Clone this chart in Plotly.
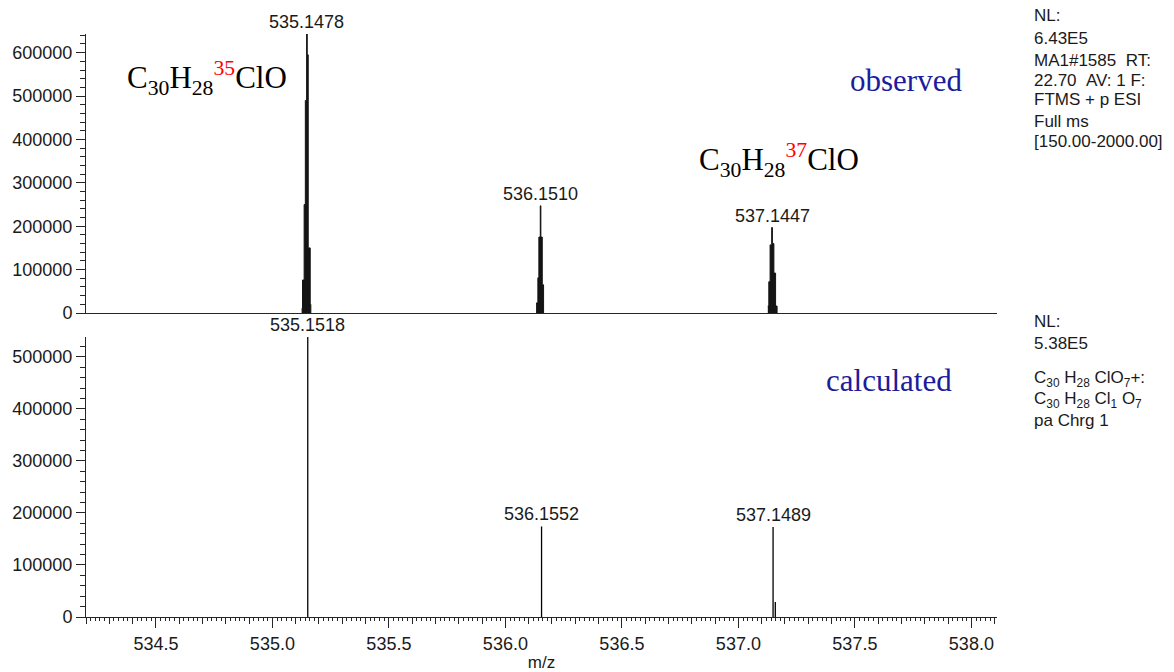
import plotly.graph_objects as go

# ---------------- data ----------------
# observed profile points (m/z, intensity) for the three isotope peaks (step profile)
obs_peak1_mz = [535.1255, 535.1293, 535.1362, 535.1414, 535.1469, 535.1495, 535.1538, 535.1624, 535.1650]
obs_peak1_int = [10000, 76000, 250000, 490000, 643000, 595000, 150000, 20000, 0]
obs_peak2_mz = [536.1317, 536.1394, 536.1437, 536.1497, 536.1523, 536.1583, 536.1639]
obs_peak2_int = [23000, 81000, 175000, 247000, 175000, 65000, 0]
obs_peak3_mz = [537.1263, 537.1306, 537.1361, 537.1430, 537.1460, 537.1524, 537.1597, 537.1661]
obs_peak3_int = [16000, 72000, 157000, 197000, 160000, 92000, 16000, 0]

obs_label_mz = [535.1478, 536.1510, 537.1447]
obs_label_int = [643000, 247000, 197000]

calc_mz = [535.1518, 536.1552, 537.1489, 537.1585]
calc_int = [538000, 174000, 173000, 29000]
calc_label_mz = [535.1518, 536.1552, 537.1489]
calc_label_int = [538000, 174000, 173000]

top_info = ["NL:", "6.43E5", "MA1#1585\u00a0\u00a0RT:", "22.70\u00a0\u00a0AV: 1 F:",
            "FTMS + p ESI", "Full ms", "[150.00-2000.00]"]
bottom_info = ["NL:", "5.38E5", "C<sub>30</sub> H<sub>28</sub> ClO<sub>7</sub>+:",
               "C<sub>30</sub> H<sub>28</sub> Cl<sub>1</sub> O<sub>7</sub>", "pa Chrg 1"]

x_range = [534.2, 538.11]
top_max = 643000
bottom_max = 538000

# ---------------- layout geometry (pixels) ----------------
W, H = 1174, 672
ML, MR, MT, MB = 86, 177, 34, 55
plot_h = H - MT - MB
plot_w = W - ML - MR


def py(p):
    return (H - MB - p) / plot_h


def px(p):
    return (p - ML) / plot_w


AX = "#262626"
FONT = "Liberation Sans, Arial, sans-serif"
SERIF = "Liberation Serif, Times New Roman, serif"

fig = go.Figure()

# observed profile peaks
for mzs, ints in [(obs_peak1_mz, obs_peak1_int), (obs_peak2_mz, obs_peak2_int), (obs_peak3_mz, obs_peak3_int)]:
    fig.add_trace(go.Scatter(x=mzs, y=ints, mode="lines", line=dict(color="#141414", width=1, shape="hv"),
                             fill="tozeroy", fillcolor="#141414", xaxis="x", yaxis="y", showlegend=False,
                             hoverinfo="x+y"))

# calculated sticks
sx, sy = [], []
for m, i in zip(calc_mz, calc_int):
    sx += [m, m, None]
    sy += [0, i, None]
fig.add_trace(go.Scatter(x=sx, y=sy, mode="lines", line=dict(color="#000000", width=1.3),
                         xaxis="x2", yaxis="y2", showlegend=False))
# invisible trace for the minor tick overlay axis
fig.add_trace(go.Scatter(x=x_range, y=[0, 0], mode="lines", line=dict(width=0), xaxis="x3", yaxis="y2",
                         showlegend=False, hoverinfo="skip"))

top_dom = [py(313), 1.0]
bot_dom = [0.0, py(337)]

yaxis_common = dict(
    showline=True, linecolor=AX, linewidth=1, ticks="outside", ticklen=9, tickwidth=1, tickcolor=AX,
    tickformat="d", dtick=100000, tick0=0, showgrid=False, zeroline=False, automargin=False,
    tickfont=dict(family=FONT, size=18, color="#1a1a1a"),
    minor=dict(ticks="outside", ticklen=5, tickcolor=AX, dtick=20000, tick0=0, showgrid=False),
)

fig.update_layout(
    width=W, height=H, margin=dict(l=ML, r=MR, t=MT, b=MB),
    paper_bgcolor="white", plot_bgcolor="white",
    xaxis=dict(domain=[0, 1], range=x_range, anchor="y", showline=True, linecolor=AX, linewidth=1,
               ticks="", showticklabels=False, showgrid=False, zeroline=False, automargin=False),
    yaxis=dict(domain=top_dom, range=[0, top_max], anchor="x", **yaxis_common),
    xaxis2=dict(domain=[0, 1], range=x_range, anchor="y2", showline=True, linecolor=AX, linewidth=1,
                ticks="outside", ticklen=10, tickwidth=1, tickcolor=AX, dtick=0.5, tick0=534.5,
                tickformat=".1f", showgrid=False, zeroline=False, automargin=False,
                tickfont=dict(family=FONT, size=18, color="#1a1a1a"),
                minor=dict(ticks="outside", ticklen=6, tickcolor=AX, dtick=0.1, tick0=534.2, showgrid=False),
                title=dict(text="m/z", font=dict(family=FONT, size=17, color="#1a1a1a"), standoff=8)),
    xaxis3=dict(domain=[0, 1], range=x_range, anchor="y2", overlaying="x2", side="bottom",
                showline=False, ticks="outside", ticklen=3, tickwidth=1, tickcolor=AX, dtick=0.02,
                tick0=534.2, showticklabels=False, showgrid=False, zeroline=False, automargin=False),
    yaxis2=dict(domain=bot_dom, range=[0, bottom_max], anchor="x2", **yaxis_common),
    showlegend=False,
)

annotations = []
# peak labels
for m, i in zip(obs_label_mz, obs_label_int):
    annotations.append(dict(x=m, y=i, xref="x", yref="y", text=f"{m:.4f}", showarrow=False,
                            yanchor="bottom", xanchor="center", yshift=0,
                            font=dict(family=FONT, size=18, color="#1a1a1a")))
for m, i in zip(calc_label_mz, calc_label_int):
    annotations.append(dict(x=m, y=i, xref="x2", yref="y2", text=f"{m:.4f}", showarrow=False,
                            yanchor="bottom", xanchor="center", yshift=0,
                            font=dict(family=FONT, size=18, color="#1a1a1a")))

# info text on the right
top_info_y = [16, 38, 60, 80, 100, 121, 141]
for t, yy in zip(top_info, top_info_y):
    annotations.append(dict(x=px(1032), y=py(yy), xref="paper", yref="paper", text=t, showarrow=False,
                            xanchor="left", yanchor="middle", font=dict(family=FONT, size=17, color="#1a1a1a")))
bottom_info_y = [322, 344, 379, 400, 420]
for t, yy in zip(bottom_info, bottom_info_y):
    annotations.append(dict(x=px(1032), y=py(yy), xref="paper", yref="paper", text=t, showarrow=False,
                            xanchor="left", yanchor="middle", font=dict(family=FONT, size=17, color="#1a1a1a")))

# formulas and panel labels
f1 = "C<sub>30</sub>H<sub>28</sub><sup><span style='color:#ff0000'>35</span></sup>ClO"
f2 = "C<sub>30</sub>H<sub>28</sub><sup><span style='color:#ff0000'>37</span></sup>ClO"
annotations.append(dict(x=px(125), y=py(78), xref="paper", yref="paper", text=f1, showarrow=False,
                        xanchor="left", yanchor="middle", font=dict(family=SERIF, size=31, color="#000000")))
annotations.append(dict(x=px(697), y=py(160), xref="paper", yref="paper", text=f2, showarrow=False,
                        xanchor="left", yanchor="middle", font=dict(family=SERIF, size=31, color="#000000")))
annotations.append(dict(x=px(964), y=py(80), xref="paper", yref="paper", text="observed", showarrow=False,
                        xanchor="right", yanchor="middle", font=dict(family=SERIF, size=31, color="#1c1c9c")))
annotations.append(dict(x=px(954), y=py(380), xref="paper", yref="paper", text="calculated", showarrow=False,
                        xanchor="right", yanchor="middle", font=dict(family=SERIF, size=31, color="#1c1c9c")))

fig.update_layout(annotations=annotations)

fig.write_html("out.html")
